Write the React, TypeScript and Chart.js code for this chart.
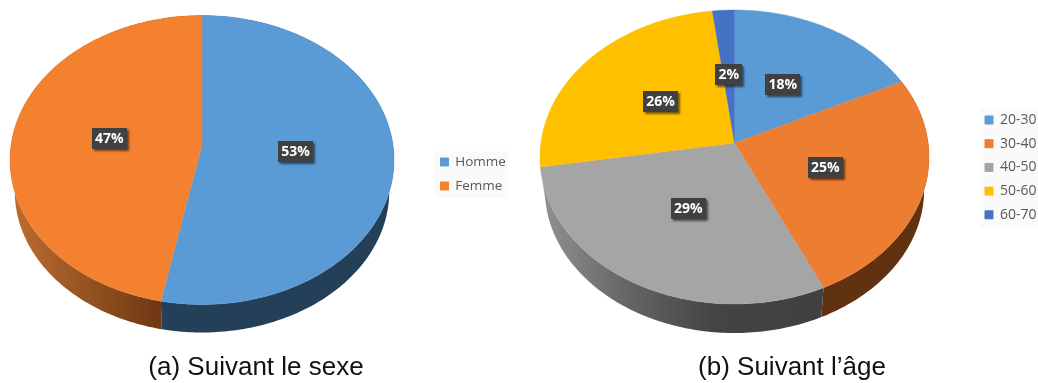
import React, { useEffect, useRef } from "react";
import { Chart, registerables } from "chart.js";

Chart.register(...registerables);

// ---------- data ----------
const sexCategories = ["Homme", "Femme"];
const sexValues = [53.1, 46.9];
const sexColors = ["#5B9BD5", "#F4812F"];
const sexCaption = "(a) Suivant le sexe";

const ageCategories = ["20-30", "30-40", "40-50", "50-60", "60-70"];
const ageValues = [17.8, 25.3, 29.3, 25.6, 2];
const ageColors = ["#5B9BD5", "#ED7D31", "#A5A5A5", "#FFC000", "#4472C4"];
const ageCaption = "(b) Suivant l\u2019âge";

// ---------- look ----------
type Stop = [number, string];
type View = {
  left: number; width: number;
  rimL: number; rimR: number; rimT: number; rimB: number; apexY: number;
  depthB: number; wallScale: number;
  walls: (Stop[] | null)[];
  legendBox: [number, number, number, number];
  legendX: number; legendY: number; legendFont: number; legendGap: number;
  captionX: number; captionY: number;
};

const sexView: View = {
  left: 0, width: 525,
  rimL: 10, rimR: 394, rimT: 15.5, rimB: 304.5, apexY: 145,
  depthB: 332.5, wallScale: 0.975,
  walls: [
    [[160, "#243F58"], [390, "#243F58"]],
    [[15, "#BC6C30"], [90, "#93521F"], [162, "#6E3713"]],
  ],
  legendBox: [435, 151, 73, 47],
  legendX: 441, legendY: 162, legendFont: 13.5, legendGap: 10.5,
  captionX: 256, captionY: 367.5,
};

const ageView: View = {
  left: 525, width: 513,
  rimL: 15, rimR: 404, rimT: 10, rimB: 304, apexY: 143,
  depthB: 333, wallScale: 0.975,
  walls: [
    null,
    [[300, "#61320F"], [405, "#61320F"]],
    [[15, "#929292"], [100, "#666666"], [190, "#444444"], [301, "#404040"]],
    null,
    null,
  ],
  legendBox: [455, 108, 58, 119],
  legendX: 460.5, legendY: 120, legendFont: 14, legendGap: 9.7,
  captionX: 267, captionY: 367.5,
};

const LABEL_RADIUS = 0.49;
const LABEL_FONT = "bold 14px 'Open Sans'";

// ---------- 3D pie plugin: angles come from Chart.js arc elements ----------
function projector(v: View) {
  const cx = (v.rimL + v.rimR) / 2;
  const rx = (v.rimR - v.rimL) / 2;
  const ratio = (v.rimB - v.apexY) / (v.apexY - v.rimT);
  const k = (ratio - 1) / (ratio + 1);
  const B = (v.rimB - v.apexY) * (1 - k);
  const A = rx * Math.sqrt(1 - k * k);
  const drop = v.depthB - v.wallScale * (v.rimB - v.apexY) - v.apexY;
  return (angle: number, r: number, low = false) => {
    const s = low ? v.wallScale : 1;
    const den = 1 - k * Math.sin(angle) * r;
    return {
      x: cx + (A * s * Math.cos(angle) * r) / den,
      y: v.apexY + (low ? drop : 0) + (B * s * Math.sin(angle) * r) / den,
    };
  };
}

function pie3d(v: View) {
  const project = projector(v);
  const trace = (ctx: CanvasRenderingContext2D, a1: number, a2: number, low: boolean, reverse: boolean) => {
    const n = Math.max(2, Math.ceil((a2 - a1) * 60));
    for (let i = 0; i <= n; i++) {
      const t = reverse ? 1 - i / n : i / n;
      const p = project(a1 + (a2 - a1) * t, 1, low);
      ctx.lineTo(p.x, p.y);
    }
  };
  return {
    id: "pie3d",
    afterLayout(chart: any) {
      const legend = chart.legend;
      const itemH = Math.max(v.legendFont, 8);
      const pad = v.legendGap;
      legend.left = v.legendX - pad - 0.5;
      legend.top = v.legendY - itemH / 2 - pad;
      const title = chart.titleBlock;
      title.left = v.captionX - 200;
      title.right = v.captionX + 200;
      title.top = v.captionY - (26 * 1.2) / 2;
    },
    beforeDraw(chart: any) {
      const ctx = chart.ctx;
      const [x, y, w, h] = v.legendBox;
      ctx.save();
      ctx.fillStyle = "#FAFAFA";
      ctx.fillRect(x, y, w, h);
      ctx.restore();
    },
    beforeDatasetDraw(chart: any, args: any) {
      const ctx: CanvasRenderingContext2D = chart.ctx;
      const arcs = args.meta.data;
      const colors = chart.data.datasets[args.index].backgroundColor;
      ctx.save();
      // side walls
      arcs.forEach((arc: any, i: number) => {
        const stops = v.walls[i];
        if (!stops) return;
        const g = ctx.createLinearGradient(stops[0][0], 0, stops[stops.length - 1][0], 0);
        const span = stops[stops.length - 1][0] - stops[0][0];
        stops.forEach(([px, c]) => g.addColorStop((px - stops[0][0]) / span, c));
        ctx.beginPath();
        trace(ctx, arc.startAngle, arc.endAngle, false, false);
        trace(ctx, arc.startAngle, arc.endAngle, true, true);
        ctx.closePath();
        ctx.fillStyle = g;
        ctx.fill();
      });
      // top face
      arcs.forEach((arc: any, i: number) => {
        ctx.beginPath();
        const apex = project(0, 0);
        ctx.moveTo(apex.x, apex.y);
        trace(ctx, arc.startAngle, arc.endAngle, false, false);
        ctx.closePath();
        ctx.fillStyle = colors[i];
        ctx.strokeStyle = colors[i];
        ctx.lineWidth = 0.4;
        ctx.fill();
        ctx.stroke();
      });
      ctx.restore();
      return false;
    },
    afterDraw(chart: any) {
      const ctx: CanvasRenderingContext2D = chart.ctx;
      const meta = chart.getDatasetMeta(0);
      const values = chart.data.datasets[0].data;
      ctx.save();
      ctx.font = LABEL_FONT;
      ctx.textAlign = "center";
      ctx.textBaseline = "middle";
      meta.data.forEach((arc: any, i: number) => {
        const p = project((arc.startAngle + arc.endAngle) / 2, LABEL_RADIUS);
        const text = `${Math.round(values[i])}%`;
        const w = Math.round(ctx.measureText(text).width + 6);
        const h = 21;
        ctx.save();
        ctx.shadowColor = "rgba(0,0,0,0.55)";
        ctx.shadowBlur = 2;
        ctx.shadowOffsetX = 1.5;
        ctx.shadowOffsetY = 1.5;
        ctx.fillStyle = "#404040";
        ctx.fillRect(Math.round(p.x - w / 2), Math.round(p.y - h / 2), w, h);
        ctx.restore();
        ctx.fillStyle = "#FFFFFF";
        ctx.fillText(text, p.x, p.y + 0.5);
      });
      ctx.restore();
    },
  };
}

function makeChart(canvas: HTMLCanvasElement, view: View, labels: string[], data: number[], colors: string[], caption: string) {
  return new Chart(canvas, {
    type: "pie",
    data: {
      labels,
      datasets: [{ data, backgroundColor: colors, borderColor: colors, borderWidth: 1 }],
    },
    options: {
      animation: false,
      responsive: false,
      events: [],
      plugins: {
        tooltip: { enabled: false },
        title: {
          display: true,
          text: caption,
          position: "bottom",
          color: "#111111",
          padding: 0,
          font: { family: "'Liberation Sans'", size: 26, weight: "normal", lineHeight: 1.2 },
        },
        legend: {
          display: true,
          position: "right",
          align: "start",
          labels: {
            boxWidth: 8,
            boxHeight: 8,
            padding: view.legendGap,
            color: "#595959",
            font: { family: "'Open Sans'", size: view.legendFont },
          },
        },
      },
    } as any,
    plugins: [pie3d(view) as any],
  });
}

export default function App() {
  const leftRef = useRef<HTMLCanvasElement>(null);
  const rightRef = useRef<HTMLCanvasElement>(null);
  useEffect(() => {
    const a = makeChart(leftRef.current!, sexView, sexCategories, sexValues, sexColors, sexCaption);
    const b = makeChart(rightRef.current!, ageView, ageCategories, ageValues, ageColors, ageCaption);
    return () => {
      a.destroy();
      b.destroy();
    };
  }, []);
  return (
    <div style={{ position: "absolute", left: 0, top: 0, width: 1038, height: 383, background: "#fff", overflow: "hidden" }}>
      <canvas ref={leftRef} width={sexView.width} height={383} style={{ position: "absolute", left: sexView.left, top: 0 }} />
      <canvas ref={rightRef} width={ageView.width} height={383} style={{ position: "absolute", left: ageView.left, top: 0 }} />
    </div>
  );
}
